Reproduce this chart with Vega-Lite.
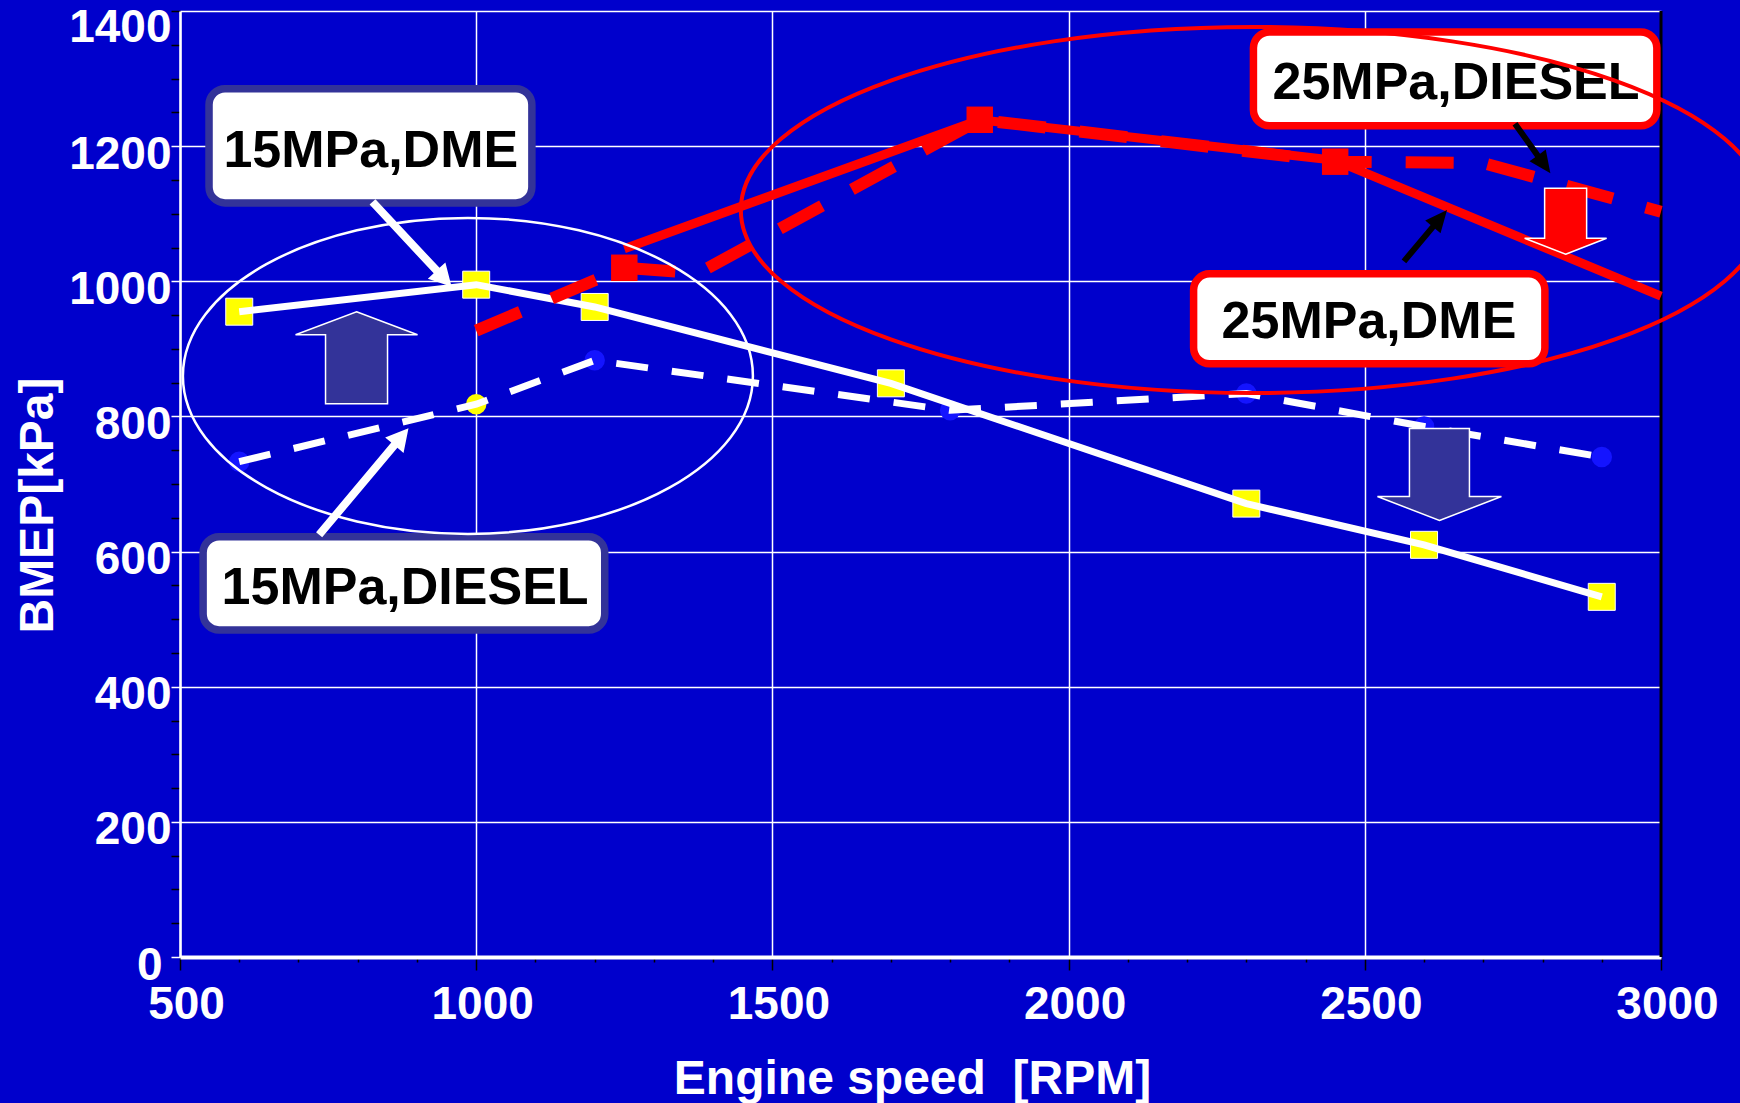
{
  "$schema": "https://vega.github.io/schema/vega-lite/v6.json",
  "width": 1481,
  "height": 946,
  "autosize": {"type": "none"},
  "padding": {"left": 180, "top": 11, "right": 79, "bottom": 146},
  "background": "#0000CC",
  "config": {"view": {"stroke": null}, "font": "Liberation Sans"},
  "datasets": {
    "series": [
      {"series": "15MPa,DME", "rpm": 600, "bmep": 955},
      {"series": "15MPa,DME", "rpm": 1000, "bmep": 995},
      {"series": "15MPa,DME", "rpm": 1200, "bmep": 962},
      {"series": "15MPa,DME", "rpm": 1700, "bmep": 849},
      {"series": "15MPa,DME", "rpm": 2300, "bmep": 671},
      {"series": "15MPa,DME", "rpm": 2600, "bmep": 610},
      {"series": "15MPa,DME", "rpm": 2900, "bmep": 533},
      {"series": "15MPa,DIESEL", "rpm": 600, "bmep": 733},
      {"series": "15MPa,DIESEL", "rpm": 1000, "bmep": 818},
      {"series": "15MPa,DIESEL", "rpm": 1200, "bmep": 883},
      {"series": "15MPa,DIESEL", "rpm": 1800, "bmep": 809},
      {"series": "15MPa,DIESEL", "rpm": 2300, "bmep": 834},
      {"series": "15MPa,DIESEL", "rpm": 2600, "bmep": 785},
      {"series": "15MPa,DIESEL", "rpm": 2900, "bmep": 740},
      {"series": "25MPa,DME", "rpm": 1250, "bmep": 1048},
      {"series": "25MPa,DME", "rpm": 1850, "bmep": 1239},
      {"series": "25MPa,DME", "rpm": 2450, "bmep": 1179},
      {"series": "25MPa,DME", "rpm": 3000, "bmep": 978},
      {"series": "25MPa,DIESEL", "rpm": 1000, "bmep": 927},
      {"series": "25MPa,DIESEL", "rpm": 1250, "bmep": 1020},
      {"series": "25MPa,DIESEL", "rpm": 1375, "bmep": 1012},
      {"series": "25MPa,DIESEL", "rpm": 1850, "bmep": 1239},
      {"series": "25MPa,DIESEL", "rpm": 2450, "bmep": 1177},
      {"series": "25MPa,DIESEL", "rpm": 2700, "bmep": 1175},
      {"series": "25MPa,DIESEL", "rpm": 3000, "bmep": 1103}
    ],
    "frame": [{"rpm": 3000, "bmep": 0, "bmep2": 1400}],
    "blocks": [
      {"id": "up15", "rpm": 798, "bmep": 955},
      {"id": "down15", "rpm": 2626, "bmep": 646},
      {"id": "down25", "rpm": 2839, "bmep": 1040}
    ],
    "boxes": [
      {"label": "15MPa,DME", "pressure": "15MPa", "rpm": 549, "rpm2": 1094, "bmep": 1116, "bmep2": 1285},
      {"label": "15MPa,DIESEL", "pressure": "15MPa", "rpm": 539, "rpm2": 1217, "bmep": 484, "bmep2": 622},
      {"label": "25MPa,DIESEL", "pressure": "25MPa", "rpm": 2312, "rpm2": 2993, "bmep": 1230, "bmep2": 1369},
      {"label": "25MPa,DME", "pressure": "25MPa", "rpm": 2211, "rpm2": 2804, "bmep": 878, "bmep2": 1011}
    ],
    "labels": [
      {"label": "15MPa,DME", "rpm": 822, "bmep": 1169},
      {"label": "15MPa,DIESEL", "rpm": 880, "bmep": 523},
      {"label": "25MPa,DIESEL", "rpm": 2654, "bmep": 1270},
      {"label": "25MPa,DME", "rpm": 2507, "bmep": 916}
    ],
    "pointers": [
      {"id": "p1", "rpm": 958.5, "bmep": 992},
      {"id": "p2", "rpm": 885.7, "bmep": 782.4},
      {"id": "p3", "rpm": 2813.3, "bmep": 1159.8},
      {"id": "p4", "rpm": 2638.8, "bmep": 1105.5}
    ],
    "rings": [
      {"id": "ring15", "rpm": 986, "bmep": 860},
      {"id": "ring25", "rpm": 2311, "bmep": 1105.5}
    ]
  },
  "encoding": {
    "x": {
      "field": "rpm",
      "type": "quantitative",
      "scale": {"domain": [500, 3000], "nice": false, "zero": false},
      "axis": {
        "values": [500,600,700,800,900,1000,1100,1200,1300,1400,1500,1600,1700,1800,1900,2000,2100,2200,2300,2400,2500,2600,2700,2800,2900,3000],
        "format": "d",
        "labelExpr": "datum.value % 500 === 0 ? datum.label : ''",
        "labelColor": "white",
        "labelFont": "Liberation Sans",
        "labelFontWeight": "bold",
        "labelFontSize": 46,
        "labelOffset": 6,
        "labelPadding": 12,
        "labelFlush": false,
        "labelOverlap": false,
        "tickColor": "black",
        "tickWidth": 1.5,
        "tickSize": {"condition": {"test": "datum.value % 500 === 0", "value": 13}, "value": 5},
        "grid": true,
        "gridColor": "white",
        "gridWidth": 1.5,
        "gridOpacity": {"condition": {"test": "datum.value % 500 === 0 && datum.value < 3000", "value": 1}, "value": 0},
        "domainColor": "white",
        "domainWidth": 4,
        "title": "Engine speed \u00a0[RPM]",
        "titleColor": "white",
        "titleFont": "Liberation Sans",
        "titleFontWeight": "bold",
        "titleFontSize": 48,
        "titleX": 732,
        "titleY": 136,
        "titleAlign": "center",
        "titleBaseline": "alphabetic"
      }
    },
    "y": {
      "field": "bmep",
      "type": "quantitative",
      "scale": {"domain": [0, 1400], "nice": false, "zero": false},
      "axis": {
        "values": [0,50,100,150,200,250,300,350,400,450,500,550,600,650,700,750,800,850,900,950,1000,1050,1100,1150,1200,1250,1300,1350,1400],
        "format": "d",
        "labelExpr": "datum.value % 200 === 0 ? datum.label : ''",
        "labelColor": "white",
        "labelFont": "Liberation Sans",
        "labelFontWeight": "bold",
        "labelFontSize": 46,
        "labelOffset": {"condition": {"test": "datum.value === 1400", "value": 16}, "value": 8},
        "labelPadding": {"condition": {"test": "datum.value === 0", "value": 9}, "value": 0},
        "labelFlush": false,
        "labelOverlap": false,
        "tickColor": {"condition": {"test": "datum.value % 200 === 0 && datum.value < 1400", "value": "white"}, "value": "black"},
        "tickWidth": 1.5,
        "tickSize": 9,
        "grid": true,
        "gridColor": "white",
        "gridWidth": 1.5,
        "gridOpacity": {"condition": {"test": "datum.value % 200 === 0", "value": 1}, "value": 0},
        "domainColor": "white",
        "domainWidth": 2.5,
        "title": "BMEP[kPa]",
        "titleColor": "white",
        "titleFont": "Liberation Sans",
        "titleFontWeight": "bold",
        "titleFontSize": 48,
        "titleAngle": -90,
        "titleX": -128,
        "titleY": 494,
        "titleAlign": "center",
        "titleBaseline": "alphabetic"
      }
    }
  },
  "layer": [
    {
      "data": {"name": "frame"},
      "mark": {"type": "rule", "color": "black", "strokeWidth": 3},
      "encoding": {"y2": {"field": "bmep2"}}
    },
    {
      "data": {"name": "series"},
      "transform": [{"filter": "datum.series === '15MPa,DME'"}],
      "mark": {"type": "point", "shape": "square", "size": 729, "filled": true, "fill": "#FFFF00", "stroke": "white", "strokeWidth": 1, "opacity": 1}
    },
    {
      "data": {"name": "series"},
      "transform": [{"filter": "datum.series === '15MPa,DIESEL'"}],
      "mark": {"type": "point", "shape": "circle", "size": 420, "filled": true, "opacity": 1, "strokeWidth": 0},
      "encoding": {
        "fill": {"condition": {"test": "datum.rpm === 1000", "value": "#FFFF00"}, "value": "#1414FF"}
      }
    },
    {
      "data": {"name": "series"},
      "transform": [{"filter": "datum.series === '15MPa,DME'"}],
      "mark": {"type": "line", "color": "white", "strokeWidth": 7}
    },
    {
      "data": {"name": "series"},
      "transform": [{"filter": "datum.series === '15MPa,DIESEL'"}],
      "mark": {"type": "line", "color": "white", "strokeWidth": 7, "strokeDash": [32, 24]}
    },
    {
      "data": {"name": "series"},
      "transform": [{"filter": "datum.series === '25MPa,DIESEL' && (datum.rpm === 1250 || datum.rpm === 1850 || datum.rpm === 2450)"}],
      "mark": {"type": "point", "shape": "square", "size": 700, "filled": true, "fill": "#FF0000", "strokeWidth": 0, "opacity": 1}
    },
    {
      "data": {"name": "series"},
      "transform": [{"filter": "datum.series === '25MPa,DIESEL'"}],
      "mark": {"type": "line", "color": "#FF0000", "strokeWidth": 12, "strokeDash": [48, 34]}
    },
    {
      "data": {"name": "series"},
      "transform": [{"filter": "datum.series === '25MPa,DME'"}],
      "mark": {"type": "line", "color": "#FF0000", "strokeWidth": 9}
    },
    {
      "data": {"name": "blocks"},
      "mark": {"type": "point", "size": 4, "filled": true, "stroke": "white", "strokeWidth": 1.5, "opacity": 1},
      "encoding": {
        "shape": {
          "field": "id", "type": "nominal", "legend": null,
          "scale": {"domain": ["up15", "down15", "down25"], "range": [
            "M0,0L61,23L31,23L31,92L-31,92L-31,23L-61,23Z",
            "M0,0L62,-24L30,-24L30,-92L-30,-92L-30,-24L-62,-24Z",
            "M0,0L41,-16L21,-16L21,-66L-21,-66L-21,-16L-41,-16Z"
          ]}
        },
        "fill": {
          "field": "id", "type": "nominal", "legend": null,
          "scale": {"domain": ["up15", "down15", "down25"], "range": ["#333399", "#333399", "#FF0000"]}
        }
      }
    },
    {
      "data": {"name": "boxes"},
      "mark": {"type": "rect", "fill": "white", "strokeWidth": 7.5, "cornerRadius": 16, "opacity": 1},
      "encoding": {
        "x2": {"field": "rpm2"},
        "y2": {"field": "bmep2"},
        "stroke": {
          "field": "pressure", "type": "nominal", "legend": null,
          "scale": {"domain": ["15MPa", "25MPa"], "range": ["#333399", "#FF0000"]}
        }
      }
    },
    {
      "data": {"name": "labels"},
      "mark": {"type": "text", "font": "Liberation Sans", "fontWeight": "bold", "fontSize": 52, "color": "black", "align": "center", "baseline": "alphabetic"},
      "encoding": {"text": {"field": "label"}}
    },
    {
      "data": {"name": "pointers"},
      "transform": [{"filter": "datum.id === 'p1'"}],
      "mark": {"type": "point", "size": 4, "filled": true, "color": "white", "opacity": 1, "angle": 137, "shape": "M0,0L12,22L4,22L4,116L-4,116L-4,22L-12,22Z"}
    },
    {
      "data": {"name": "pointers"},
      "transform": [{"filter": "datum.id === 'p2'"}],
      "mark": {"type": "point", "size": 4, "filled": true, "color": "white", "opacity": 1, "angle": 40, "shape": "M0,0L12,22L4,22L4,139L-4,139L-4,22L-12,22Z"}
    },
    {
      "data": {"name": "pointers"},
      "transform": [{"filter": "datum.id === 'p3'"}],
      "mark": {"type": "point", "size": 4, "filled": true, "color": "black", "opacity": 1, "angle": 144.5, "shape": "M0,0L10,22L3,22L3,61L-3,61L-3,22L-10,22Z"}
    },
    {
      "data": {"name": "pointers"},
      "transform": [{"filter": "datum.id === 'p4'"}],
      "mark": {"type": "point", "size": 4, "filled": true, "color": "black", "opacity": 1, "angle": 40, "shape": "M0,0L10,22L3,22L3,67L-3,67L-3,22L-10,22Z"}
    },
    {
      "data": {"name": "rings"},
      "transform": [{"filter": "datum.id === 'ring15'"}],
      "mark": {"type": "point", "size": 4, "filled": false, "color": "white", "strokeWidth": 2.5, "opacity": 1, "shape": "M-285,0A285,158,0,1,1,285,0A285,158,0,1,1,-285,0Z"}
    },
    {
      "data": {"name": "rings"},
      "transform": [{"filter": "datum.id === 'ring25'"}],
      "mark": {"type": "point", "size": 4, "filled": false, "color": "#FF0000", "strokeWidth": 4, "opacity": 1, "shape": "M-512,0A512,183,0,1,1,512,0A512,183,0,1,1,-512,0Z"}
    }
  ]
}
